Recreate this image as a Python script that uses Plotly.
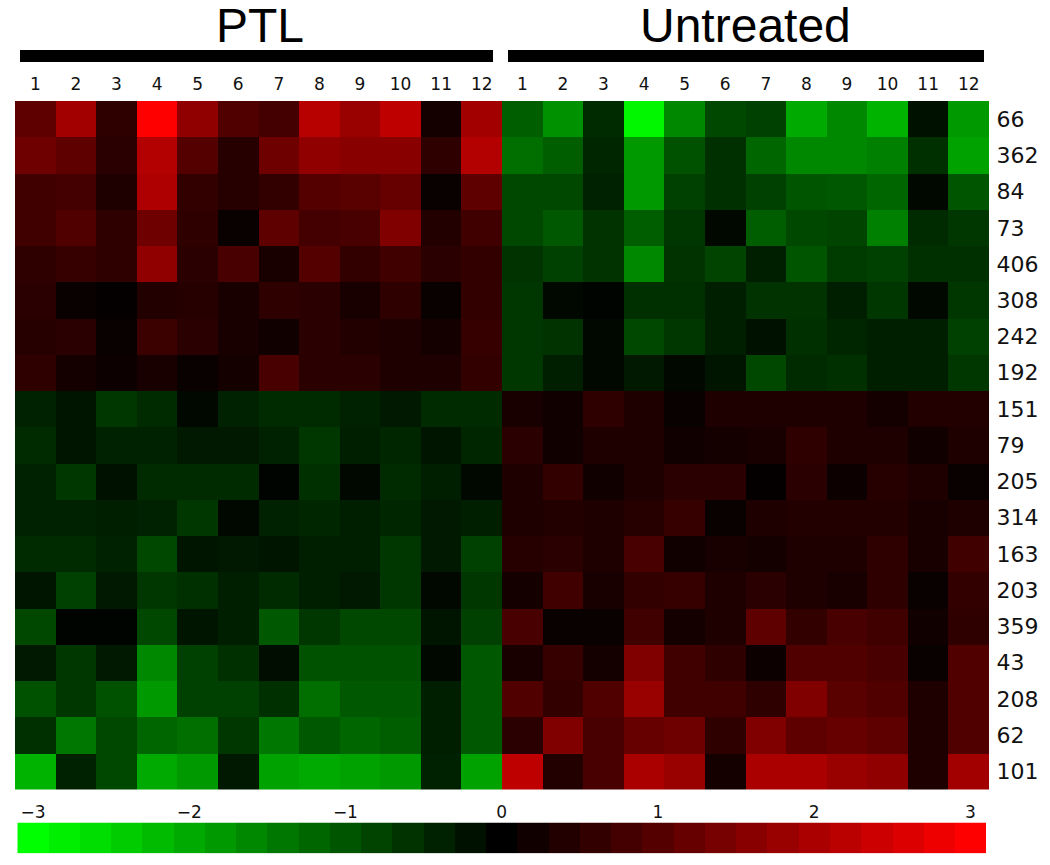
import plotly.graph_objects as go

# ---------------- data ----------------
genes = ["66", "362", "84", "73", "406", "308", "242", "192", "151", "79",
         "205", "314", "163", "203", "359", "43", "208", "62", "101"]
samples = [str(i) for i in range(1, 13)]
groups = ["PTL", "Untreated"]

ptl = [
    [1.1, 1.9, 0.55, 3.0, 1.7, 0.95, 0.8, 2.15, 1.8, 2.25, 0.25, 1.9],
    [1.3, 1.1, 0.5, 2.1, 1.0, 0.45, 1.3, 1.7, 1.6, 1.6, 0.55, 2.1],
    [0.75, 0.8, 0.35, 2.05, 0.6, 0.45, 0.6, 1.0, 1.05, 1.2, 0.1, 1.1],
    [0.75, 0.95, 0.55, 1.3, 0.55, 0.1, 1.1, 0.8, 0.85, 1.5, 0.4, 0.75],
    [0.55, 0.65, 0.55, 1.7, 0.5, 0.85, 0.3, 1.0, 0.6, 0.75, 0.5, 0.6],
    [0.5, 0.1, 0.05, 0.4, 0.45, 0.3, 0.55, 0.5, 0.3, 0.55, 0.1, 0.6],
    [0.45, 0.5, 0.1, 0.7, 0.5, 0.3, 0.2, 0.5, 0.4, 0.35, 0.25, 0.65],
    [0.55, 0.25, 0.15, 0.3, 0.1, 0.25, 0.85, 0.5, 0.5, 0.35, 0.35, 0.6],
    [-0.4, -0.25, -0.65, -0.5, -0.1, -0.4, -0.5, -0.5, -0.4, -0.3, -0.5, -0.5],
    [-0.5, -0.25, -0.4, -0.4, -0.3, -0.3, -0.4, -0.65, -0.35, -0.45, -0.25, -0.45],
    [-0.4, -0.65, -0.2, -0.5, -0.5, -0.5, -0.05, -0.55, -0.1, -0.5, -0.35, -0.1],
    [-0.4, -0.4, -0.35, -0.4, -0.65, -0.1, -0.4, -0.45, -0.35, -0.45, -0.3, -0.35],
    [-0.5, -0.5, -0.4, -0.85, -0.25, -0.3, -0.25, -0.35, -0.35, -0.65, -0.3, -0.75],
    [-0.25, -0.75, -0.3, -0.65, -0.55, -0.35, -0.5, -0.35, -0.3, -0.65, -0.1, -0.65],
    [-0.85, -0.05, -0.05, -0.85, -0.25, -0.35, -1.05, -0.65, -0.85, -0.85, -0.25, -0.75],
    [-0.3, -0.65, -0.3, -1.6, -0.75, -0.55, -0.15, -0.95, -0.95, -0.95, -0.1, -1.05],
    [-0.95, -0.65, -0.95, -1.8, -0.75, -0.75, -0.55, -1.3, -1.05, -1.05, -0.35, -1.05],
    [-0.55, -1.4, -0.85, -1.2, -1.3, -0.65, -1.4, -1.05, -1.2, -1.1, -0.35, -1.05],
    [-2.1, -0.4, -0.85, -2.0, -1.8, -0.3, -1.9, -2.0, -1.9, -1.8, -0.4, -1.9],
]

untreated = [
    [-1.1, -1.7, -0.5, -2.9, -1.6, -0.85, -0.75, -2.0, -1.6, -2.1, -0.2, -1.8],
    [-1.3, -1.1, -0.45, -1.8, -0.95, -0.55, -1.2, -1.6, -1.6, -1.5, -0.55, -1.9],
    [-0.85, -0.85, -0.4, -1.8, -0.75, -0.55, -0.75, -1.0, -1.05, -1.2, -0.1, -1.0],
    [-0.85, -1.05, -0.6, -1.1, -0.65, -0.1, -1.1, -0.85, -0.8, -1.5, -0.5, -0.65],
    [-0.6, -0.75, -0.6, -1.6, -0.6, -0.8, -0.35, -1.0, -0.7, -0.75, -0.55, -0.55],
    [-0.65, -0.1, -0.05, -0.55, -0.55, -0.35, -0.6, -0.6, -0.35, -0.65, -0.1, -0.65],
    [-0.65, -0.6, -0.1, -0.85, -0.65, -0.35, -0.2, -0.55, -0.45, -0.35, -0.35, -0.75],
    [-0.65, -0.35, -0.1, -0.3, -0.1, -0.25, -0.85, -0.5, -0.55, -0.35, -0.35, -0.65],
    [0.3, 0.2, 0.55, 0.35, 0.1, 0.35, 0.35, 0.35, 0.35, 0.25, 0.4, 0.4],
    [0.5, 0.2, 0.35, 0.35, 0.2, 0.25, 0.3, 0.55, 0.35, 0.35, 0.2, 0.35],
    [0.35, 0.6, 0.2, 0.35, 0.5, 0.5, 0.05, 0.5, 0.15, 0.45, 0.35, 0.1],
    [0.35, 0.4, 0.35, 0.45, 0.65, 0.1, 0.35, 0.4, 0.4, 0.4, 0.3, 0.35],
    [0.45, 0.5, 0.35, 0.85, 0.2, 0.3, 0.25, 0.35, 0.35, 0.55, 0.3, 0.75],
    [0.25, 0.75, 0.3, 0.6, 0.65, 0.35, 0.5, 0.35, 0.3, 0.55, 0.1, 0.6],
    [0.85, 0.1, 0.1, 0.75, 0.25, 0.35, 1.1, 0.6, 0.85, 0.75, 0.2, 0.55],
    [0.3, 0.65, 0.25, 1.5, 0.75, 0.55, 0.15, 0.95, 0.95, 0.85, 0.1, 0.95],
    [0.95, 0.6, 0.95, 1.8, 0.75, 0.75, 0.55, 1.5, 1.05, 0.95, 0.35, 0.95],
    [0.5, 1.5, 0.85, 1.2, 1.3, 0.55, 1.5, 1.1, 1.2, 1.1, 0.35, 0.95],
    [2.25, 0.4, 0.85, 2.0, 1.8, 0.25, 2.0, 2.0, 1.8, 1.7, 0.35, 1.9],
]

# legend ramp (colour key) values and its labels
key_steps = [-3.0, -2.8, -2.6, -2.4, -2.2, -2.0, -1.8, -1.6, -1.4, -1.2, -1.0,
             -0.8, -0.6, -0.4, -0.2, 0.0, 0.2, 0.4, 0.6, 0.8, 1.0, 1.2, 1.4,
             1.6, 1.8, 2.0, 2.2, 2.4, 2.6, 2.8, 3.0]
key_ticks = [-3, -2, -1, 0, 1, 2, 3]
key_labels = ["\u22123", "\u22122", "\u22121", "0", "1", "2", "3"]

# ---------------- layout helpers ----------------
W, H = 1050, 865


def px(x):
    return x / W


def py(y):
    return 1 - y / H


colorscale = [[0.0, "rgb(0,255,0)"], [0.5, "rgb(0,0,0)"], [1.0, "rgb(255,0,0)"]]

z = [p + u for p, u in zip(ptl, untreated)]
col_labels = samples + samples
col_pos = list(range(len(col_labels)))

fig = go.Figure()
fig.add_trace(go.Heatmap(
    z=z, x=col_pos, y=genes,
    colorscale=colorscale, zmin=-3, zmax=3, showscale=False,
    hoverinfo="skip", xaxis="x", yaxis="y",
))
fig.add_trace(go.Heatmap(
    z=[key_steps], x=key_steps, y=[0],
    colorscale=colorscale, zmin=-3, zmax=3, showscale=False,
    hoverinfo="skip", xaxis="x2", yaxis="y2",
))

tick_font = dict(family="DejaVu Sans", size=17, color="#111")

fig.update_layout(
    width=W, height=H,
    margin=dict(l=0, r=0, t=0, b=0),
    paper_bgcolor="white", plot_bgcolor="white",
    showlegend=False,
    xaxis=dict(
        domain=[px(15), px(989)], range=[-0.5, 23.5], side="top",
        tickmode="array", tickvals=col_pos, ticktext=col_labels,
        tickfont=tick_font, ticks="outside", ticklen=3,
        tickcolor="rgba(0,0,0,0)", showgrid=False, zeroline=False,
        showline=False, fixedrange=True,
    ),
    yaxis=dict(
        domain=[py(789.5), py(101)], type="category", autorange="reversed",
        side="right", tickfont=dict(family="DejaVu Sans", size=22, color="#111"),
        ticks="outside", ticklen=2, tickcolor="rgba(0,0,0,0)",
        showgrid=False, zeroline=False, showline=False, fixedrange=True,
    ),
    xaxis2=dict(
        domain=[px(17.3), px(986)], range=[-3.1, 3.1], anchor="y2", side="top",
        tickmode="array", tickvals=key_ticks, ticktext=key_labels,
        tickfont=tick_font, ticks="", showgrid=False, zeroline=False,
        showline=False, fixedrange=True,
    ),
    yaxis2=dict(
        domain=[py(853.3), py(822.5)], anchor="x2", range=[-0.5, 0.5],
        showticklabels=False, ticks="", showgrid=False, zeroline=False,
        showline=False, fixedrange=True,
    ),
)

# group bars and titles
bars = [(20, 493), (508, 984)]
title_x = [260, 745.5]
for (x0, x1), name, tx in zip(bars, groups, title_x):
    fig.add_shape(type="rect", xref="paper", yref="paper",
                  x0=px(x0), x1=px(x1), y0=py(62), y1=py(50),
                  fillcolor="black", line=dict(width=0))
    fig.add_annotation(text=name, xref="paper", yref="paper",
                       x=px(tx), y=py(25), xanchor="center", yanchor="middle",
                       showarrow=False,
                       font=dict(family="Liberation Sans", size=48, color="black"))

fig.write_html(
    "out.html",
    config={"displayModeBar": False},
    post_script="document.body.style.margin='0';document.body.style.overflow='hidden';",
)
